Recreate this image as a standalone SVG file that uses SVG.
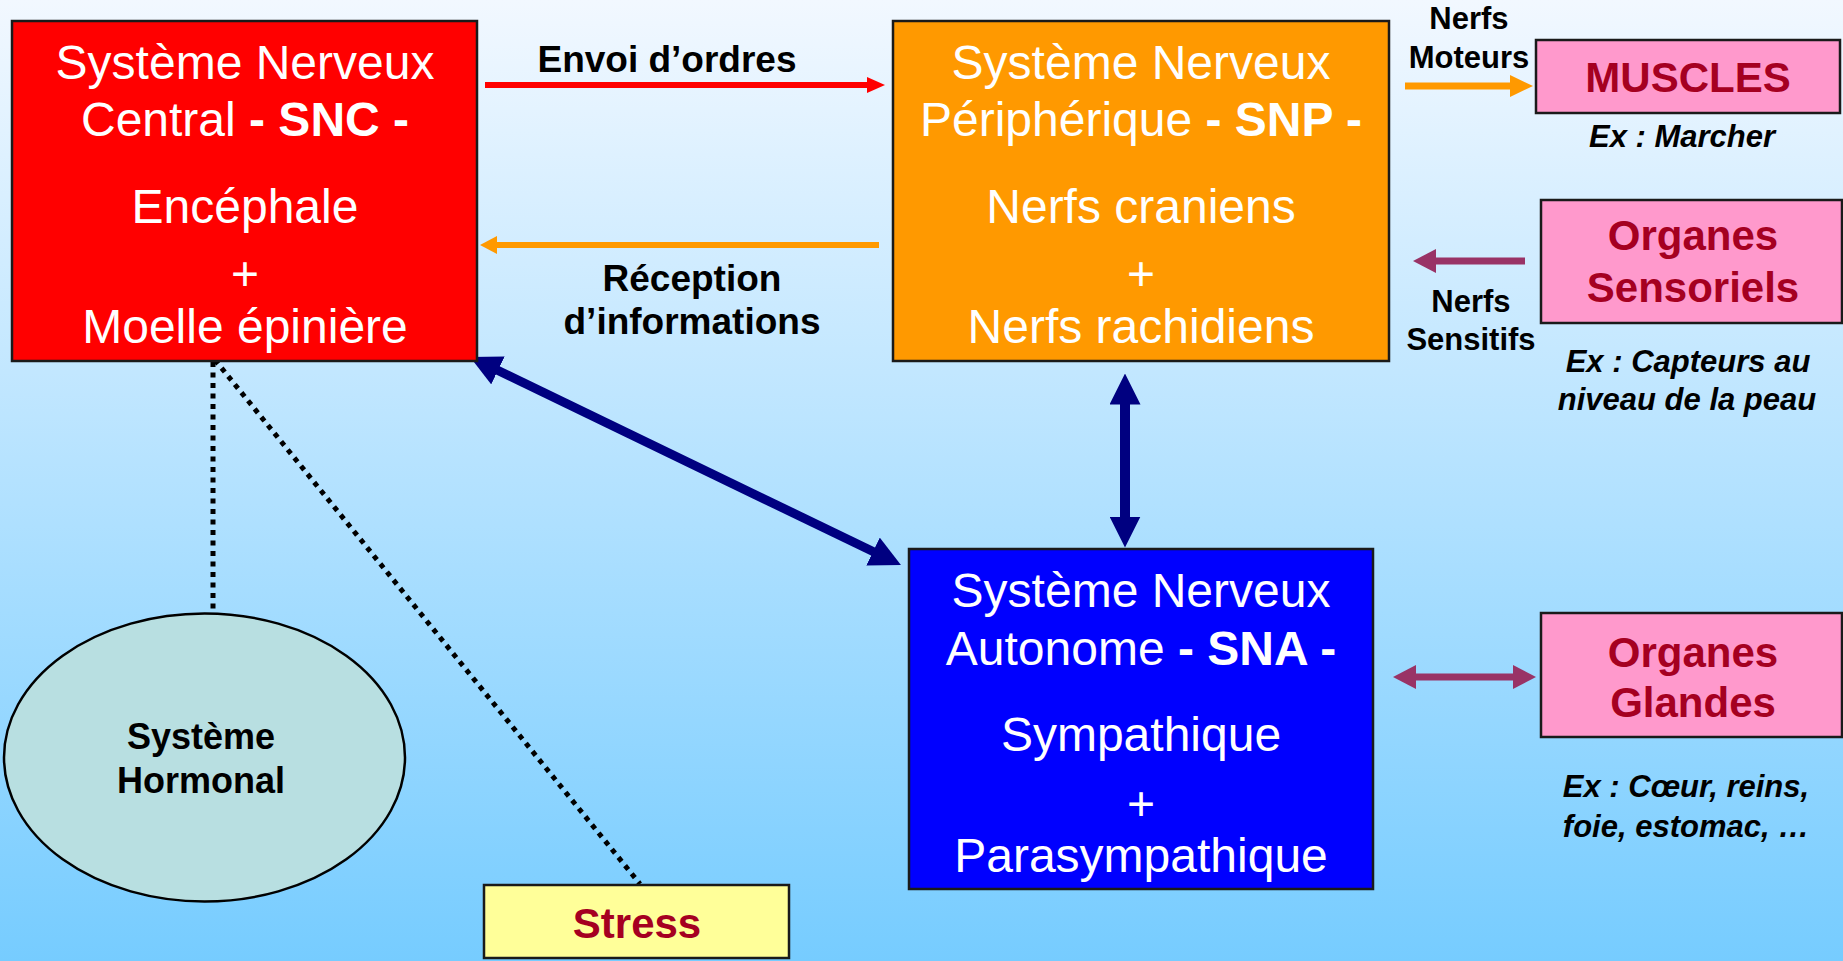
<svg xmlns="http://www.w3.org/2000/svg" width="1843" height="961" viewBox="0 0 1843 961">
<defs>
<linearGradient id="bg" x1="0" y1="0" x2="0" y2="1">
<stop offset="0" stop-color="#F2F8FF"/>
<stop offset="1" stop-color="#76CCFF"/>
</linearGradient>
<marker id="mRed" markerUnits="userSpaceOnUse" markerWidth="18" markerHeight="16" viewBox="0 0 18 16" refX="9" refY="8" orient="auto"><path d="M0,0 L18,8 L0,16 z" fill="#FF0000"/></marker>
<marker id="mOrange" markerUnits="userSpaceOnUse" markerWidth="17" markerHeight="18" viewBox="0 0 17 18" refX="8.5" refY="9" orient="auto"><path d="M0,0 L17,9 L0,18 z" fill="#FF9900"/></marker>
<marker id="mOrangeBig" markerUnits="userSpaceOnUse" markerWidth="23" markerHeight="22" viewBox="0 0 23 22" refX="11.5" refY="11" orient="auto"><path d="M0,0 L23,11 L0,22 z" fill="#FF9900"/></marker>
<marker id="mPurple" markerUnits="userSpaceOnUse" markerWidth="23" markerHeight="24" viewBox="0 0 23 24" refX="11.5" refY="12" orient="auto-start-reverse"><path d="M0,0 L23,12 L0,24 z" fill="#993366"/></marker>
<marker id="mNavy" markerUnits="userSpaceOnUse" markerWidth="31" markerHeight="31" viewBox="0 0 31 31" refX="15.5" refY="15.5" orient="auto-start-reverse"><path d="M0,0 L31,15.5 L0,31 z" fill="#000080"/></marker>
</defs>
<style>
.box{stroke:#1a1a1a;stroke-width:2.5}
.bt{font-family:"Liberation Sans",Arial,sans-serif;font-size:48px;fill:#FFFFFF;text-anchor:middle}
.b{font-weight:bold}
.lbl{font-family:"Liberation Sans",Arial,sans-serif;font-weight:bold;fill:#000000;text-anchor:middle}
.pk{font-family:"Liberation Sans",Arial,sans-serif;font-weight:bold;font-size:42px;fill:#A50021;text-anchor:middle}
.ex{font-family:"Liberation Sans",Arial,sans-serif;font-weight:bold;font-style:italic;font-size:31px;fill:#000000;text-anchor:middle}
.dot{fill:none;stroke:#000000;stroke-width:5;stroke-dasharray:5 5.5}
</style>
<rect x="0" y="0" width="1843" height="961" fill="url(#bg)"/>

<g id="connectors">
<line x1="485" y1="85" x2="876" y2="85" stroke="#FF0000" stroke-width="6" marker-end="url(#mRed)"/>
<line x1="879" y1="245" x2="488.5" y2="245" stroke="#FF9900" stroke-width="6" marker-end="url(#mOrange)"/>
<line x1="1405" y1="86" x2="1521.5" y2="86" stroke="#FF9900" stroke-width="7" marker-end="url(#mOrangeBig)"/>
<line x1="1525" y1="261" x2="1424.5" y2="261" stroke="#993366" stroke-width="7" marker-end="url(#mPurple)"/>
<line x1="1404.5" y1="677" x2="1524.5" y2="677" stroke="#993366" stroke-width="7" marker-start="url(#mPurple)" marker-end="url(#mPurple)"/>
<line x1="1125" y1="389" x2="1125" y2="532" stroke="#000080" stroke-width="10" marker-start="url(#mNavy)" marker-end="url(#mNavy)"/>
<line x1="484" y1="363.7" x2="887" y2="558.3" stroke="#000080" stroke-width="9" marker-start="url(#mNavy)" marker-end="url(#mNavy)"/>
<line class="dot" x1="213" y1="362" x2="213" y2="612"/>
<line class="dot" x1="215" y1="360" x2="640" y2="884"/>
<text class="lbl" font-size="37" x="667" y="72">Envoi d’ordres</text>
<text class="lbl" font-size="37" x="692" y="291">Réception</text>
<text class="lbl" font-size="37" x="692" y="334">d’informations</text>
<text class="lbl" font-size="31" x="1469" y="29">Nerfs</text>
<text class="lbl" font-size="31" x="1469" y="68">Moteurs</text>
<text class="lbl" font-size="31" x="1471" y="312">Nerfs</text>
<text class="lbl" font-size="31" x="1471" y="350">Sensitifs</text>
</g>

<g id="snc">
<rect class="box" x="12" y="21" width="465" height="340" fill="#FF0000"/>
<text class="bt" x="245" y="79">Système Nerveux</text>
<text class="bt" x="245" y="136">Central <tspan class="b">- SNC -</tspan></text>
<text class="bt" x="245" y="223">Encéphale</text>
<text class="bt" x="245" y="290">+</text>
<text class="bt" x="245" y="343">Moelle épinière</text>
</g>

<g id="snp">
<rect class="box" x="893" y="21" width="496" height="340" fill="#FF9900"/>
<text class="bt" x="1141" y="79">Système Nerveux</text>
<text class="bt" x="1141" y="136">Périphérique <tspan class="b">- SNP -</tspan></text>
<text class="bt" x="1141" y="223">Nerfs craniens</text>
<text class="bt" x="1141" y="290">+</text>
<text class="bt" x="1141" y="343">Nerfs rachidiens</text>
</g>

<g id="sna">
<rect class="box" x="909" y="549" width="464" height="340" fill="#0000FF"/>
<text class="bt" x="1141" y="607">Système Nerveux</text>
<text class="bt" x="1141" y="665">Autonome <tspan class="b">- SNA -</tspan></text>
<text class="bt" x="1141" y="751">Sympathique</text>
<text class="bt" x="1141" y="820">+</text>
<text class="bt" x="1141" y="872">Parasympathique</text>
</g>

<g id="muscles">
<rect class="box" x="1536" y="40" width="304" height="73" fill="#FF99CC"/>
<text class="pk" x="1688" y="92">MUSCLES</text>
<text class="ex" x="1682" y="147">Ex : Marcher</text>
</g>

<g id="sensoriels">
<rect class="box" x="1541" y="200" width="301" height="123" fill="#FF99CC"/>
<text class="pk" x="1693" y="250">Organes</text>
<text class="pk" x="1693" y="302">Sensoriels</text>
<text class="ex" x="1688" y="372">Ex : Capteurs au</text>
<text class="ex" x="1687" y="410">niveau de la peau</text>
</g>

<g id="glandes">
<rect class="box" x="1541" y="613" width="301" height="124" fill="#FF99CC"/>
<text class="pk" x="1693" y="667">Organes</text>
<text class="pk" x="1693" y="717">Glandes</text>
<text class="ex" x="1686" y="797">Ex : Cœur, reins,</text>
<text class="ex" x="1686" y="837">foie, estomac, …</text>
</g>

<g id="hormonal">
<ellipse cx="204.5" cy="757.5" rx="200.5" ry="144" fill="#B8DFE1" stroke="#000000" stroke-width="2.5"/>
<text class="lbl" font-size="36" x="201" y="749">Système</text>
<text class="lbl" font-size="36" x="201" y="793">Hormonal</text>
</g>

<g id="stress">
<rect class="box" x="484" y="885" width="305" height="73" fill="#FFFF99"/>
<text class="pk" x="637" y="938">Stress</text>
</g>
</svg>
